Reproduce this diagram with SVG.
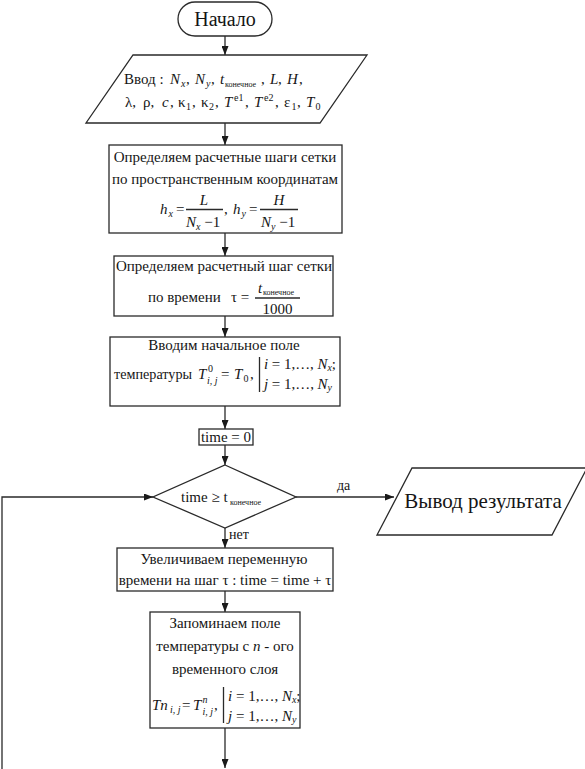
<svg xmlns="http://www.w3.org/2000/svg" width="585" height="769" viewBox="0 0 585 769">
<defs>
<style>
.s{fill:#fff;stroke:#2a2a2a;stroke-width:1.3}
.l{fill:none;stroke:#2a2a2a;stroke-width:1.3}
.t{font-family:'Liberation Serif','DejaVu Serif',serif;font-size:15px;fill:#151515}
.c{text-anchor:middle}
.i{font-style:italic}
.sm{font-size:10px}
.xs{font-size:8px}
.lb{font-size:14px}
.big{font-size:20px}
.out{font-size:21px}
</style>
<marker id="a" markerUnits="userSpaceOnUse" markerWidth="9" markerHeight="7" refX="9" refY="3.5" orient="auto">
<path d="M0,0 L9,3.5 L0,7 z" fill="#1a1a1a"/>
</marker>
</defs>
<rect width="585" height="769" fill="#fff"/>

<g id="connectors">
<line class="l" x1="225" y1="36" x2="225" y2="55" marker-end="url(#a)"/>
<line class="l" x1="225" y1="123" x2="225" y2="145" marker-end="url(#a)"/>
<line class="l" x1="225" y1="233" x2="225" y2="256" marker-end="url(#a)"/>
<line class="l" x1="225" y1="316" x2="225" y2="337" marker-end="url(#a)"/>
<line class="l" x1="225" y1="406" x2="225" y2="429" marker-end="url(#a)"/>
<line class="l" x1="225" y1="445" x2="225" y2="465" marker-end="url(#a)"/>
<line class="l" x1="296" y1="497" x2="394" y2="497" marker-end="url(#a)"/>
<line class="l" x1="225" y1="528" x2="225" y2="548" marker-end="url(#a)"/>
<line class="l" x1="225" y1="591" x2="225" y2="612" marker-end="url(#a)"/>
<line class="l" x1="225" y1="728" x2="225" y2="768" marker-end="url(#a)"/>
<polyline class="l" points="2,769 2,497 153,497" marker-end="url(#a)"/>
<text class="t lb" x="337" y="490">да</text>
<text class="t lb" x="229" y="539">нет</text>
</g>

<g id="start">
<rect class="s" x="178" y="2" width="94" height="34" rx="17"/>
<text class="t c big" x="225" y="26">Начало</text>
</g>

<g id="input">
<polygon class="s" points="133,55 367,55 320,123 86,123"/>
<text class="t">
<tspan x="124" y="84">Ввод :</tspan>
<tspan class="i" x="170" y="84">N</tspan><tspan class="i sm" x="181" y="87">x</tspan><tspan x="186" y="84">,</tspan>
<tspan class="i" x="195" y="84">N</tspan><tspan class="i sm" x="206" y="87">y</tspan><tspan x="211" y="84">,</tspan>
<tspan class="i" x="220" y="84">t</tspan><tspan class="xs" x="225" y="87">конечное</tspan><tspan x="261" y="84">,</tspan>
<tspan class="i" x="270" y="84">L</tspan><tspan x="278" y="84">,</tspan>
<tspan class="i" x="287" y="84">H</tspan><tspan x="299" y="84">,</tspan>
</text>
<text class="t">
<tspan x="125" y="107">λ,</tspan>
<tspan x="143" y="107">ρ,</tspan>
<tspan class="i" x="162" y="107">c</tspan><tspan x="170" y="107">,</tspan>
<tspan x="178" y="107">κ</tspan><tspan class="sm" x="186" y="110">1</tspan><tspan x="192" y="107">,</tspan>
<tspan x="201" y="107">κ</tspan><tspan class="sm" x="209" y="110">2</tspan><tspan x="215" y="107">,</tspan>
<tspan class="i" x="224" y="107">T</tspan><tspan class="sm" x="234" y="101">e1</tspan><tspan x="245" y="107">,</tspan>
<tspan class="i" x="254" y="107">T</tspan><tspan class="sm" x="264" y="101">e2</tspan><tspan x="275" y="107">,</tspan>
<tspan x="284" y="107">ε</tspan><tspan class="sm" x="291.5" y="110">1</tspan><tspan x="297" y="107">,</tspan>
<tspan class="i" x="306" y="107">T</tspan><tspan class="sm" x="315.5" y="110">0</tspan>
</text>
</g>

<g id="grid-steps">
<rect class="s" x="109" y="145" width="233" height="88"/>
<text class="t c" x="225" y="162">Определяем расчетные шаги сетки</text>
<text class="t c" x="225" y="184">по пространственным координатам</text>
<text class="t"><tspan class="i" x="160" y="214">h</tspan><tspan class="i sm" x="168.5" y="217">x</tspan><tspan x="176" y="214">=</tspan></text>
<line class="l" x1="186" y1="209.5" x2="223" y2="209.5"/>
<text class="t i c" x="204" y="205">L</text>
<text class="t" x="186" y="227"><tspan class="i">N</tspan><tspan class="i sm" dy="3">x</tspan><tspan dy="-3"> −1</tspan></text>
<text class="t" x="224" y="214">,</text>
<text class="t"><tspan class="i" x="233" y="214">h</tspan><tspan class="i sm" x="241.5" y="217">y</tspan><tspan x="249" y="214">=</tspan></text>
<line class="l" x1="260" y1="209.5" x2="298" y2="209.5"/>
<text class="t i c" x="279" y="205">H</text>
<text class="t" x="261" y="227"><tspan class="i">N</tspan><tspan class="i sm" dy="3">y</tspan><tspan dy="-3"> −1</tspan></text>
</g>

<g id="time-step">
<rect class="s" x="114" y="256" width="219" height="60"/>
<text class="t c" x="224" y="271">Определяем расчетный шаг сетки</text>
<text class="t" x="148" y="302">по времени</text>
<text class="t" x="231" y="302">τ =</text>
<line class="l" x1="255" y1="298" x2="300" y2="298"/>
<text class="t"><tspan class="i" x="258" y="293">t</tspan><tspan class="xs" x="263" y="295">конечное</tspan></text>
<text class="t c" x="277.5" y="314">1000</text>
</g>

<g id="init-field">
<rect class="s" x="110" y="337" width="230" height="69"/>
<text class="t c" x="224" y="350">Вводим начальное поле</text>
<text class="t" x="114" y="379" textLength="78" lengthAdjust="spacingAndGlyphs">температуры</text>
<text class="t"><tspan class="i" x="198" y="379">T</tspan><tspan class="sm" x="208" y="372">0</tspan><tspan class="i sm" x="207" y="384">i, j</tspan><tspan x="221" y="379">=</tspan><tspan class="i" x="234" y="379">T</tspan><tspan class="sm" x="243.5" y="382">0</tspan><tspan x="250" y="379">,</tspan></text>
<line class="l" x1="259.5" y1="357" x2="259.5" y2="392"/>
<text class="t" x="264" y="369" textLength="72" lengthAdjust="spacingAndGlyphs"><tspan class="i">i</tspan> = 1,…, <tspan class="i">N</tspan><tspan class="i sm" dy="2">x</tspan><tspan dy="-2">;</tspan></text>
<text class="t" x="264" y="389" textLength="68" lengthAdjust="spacingAndGlyphs"><tspan class="i">j</tspan> = 1,…, <tspan class="i">N</tspan><tspan class="i sm" dy="2">y</tspan></text>
</g>

<g id="time-zero">
<rect class="s" x="199" y="429" width="54" height="16"/>
<text class="t c" x="226" y="442">time = 0</text>
</g>

<g id="condition">
<polygon class="s" points="225,465 296,497 225,528 153,497"/>
<text class="t"><tspan x="181" y="502">time ≥ t</tspan><tspan class="xs" x="230" y="505">конечное</tspan></text>
</g>

<g id="output">
<polygon class="s" points="412,468 587,468 552,535 377,535"/>
<text class="t c out" x="483" y="508">Вывод результата</text>
</g>

<g id="increment">
<rect class="s" x="117" y="548" width="216" height="43"/>
<text class="t c" x="224" y="564">Увеличиваем переменную</text>
<text class="t c" x="225" y="585">времени на шаг τ :  time = time + τ</text>
</g>

<g id="store-layer">
<rect class="s" x="150" y="612" width="150" height="116"/>
<text class="t c" x="225" y="628">Запоминаем поле</text>
<text class="t c" x="225" y="651">температуры с <tspan class="i">n</tspan> - ого</text>
<text class="t c" x="225" y="674">временного слоя</text>
<text class="t"><tspan class="i" x="152" y="710">Tn</tspan><tspan class="i sm" x="170" y="713">i, j</tspan><tspan x="182" y="710">=</tspan><tspan class="i" x="193" y="710">T</tspan><tspan class="i sm" x="202.5" y="703">n</tspan><tspan class="i sm" x="202.5" y="715">i, j</tspan><tspan x="214" y="710">,</tspan></text>
<line class="l" x1="223.5" y1="687" x2="223.5" y2="723"/>
<text class="t" x="228" y="701"><tspan class="i">i</tspan> = 1,…, <tspan class="i">N</tspan><tspan class="i sm" dy="2">x</tspan><tspan dy="-2">;</tspan></text>
<text class="t" x="228" y="721"><tspan class="i">j</tspan> = 1,…, <tspan class="i">N</tspan><tspan class="i sm" dy="2">y</tspan></text>
</g>
</svg>
